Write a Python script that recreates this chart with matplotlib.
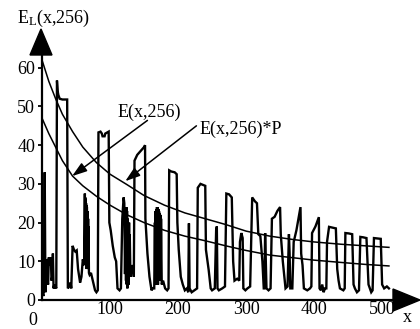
import matplotlib
matplotlib.use("Agg")
import matplotlib.pyplot as plt
from matplotlib.patches import Polygon
from matplotlib.transforms import ScaledTranslation

plt.rcParams['font.family'] = ['Liberation Serif', 'DejaVu Serif']
plt.rcParams['mathtext.fontset'] = 'custom'
plt.rcParams['mathtext.rm'] = 'Liberation Serif'
plt.rcParams['mathtext.it'] = 'Liberation Serif:italic'

# ---- data ----
el_x = [0, 1, 2, 3, 4, 5, 6, 7, 8, 9, 10, 11, 12, 13, 14, 15, 16, 17, 18, 19, 20, 21,
        22, 23, 24, 26, 30, 37, 38, 40, 42, 43, 45, 47, 49, 51, 53, 56, 58, 60, 62,
        63, 63.3, 63.6, 63.9, 64.2, 64.5, 64.8, 65.1, 65.4, 65.7, 66, 66.3, 66.6, 66.9,
        67.2, 67.5, 67.8, 68.1, 68.4, 69, 70, 72, 74, 76, 78, 80, 82,
        83, 86, 88, 89, 92, 93, 98, 99, 101, 104, 107, 109, 111, 114, 116,
        118, 120, 121, 122, 123, 123.5, 124, 124.5, 125, 125.5, 126, 126.5, 127, 127.5,
        128, 128.5, 129, 130, 132, 134, 135,
        136, 140, 145, 150, 151.5, 152, 155, 158, 161, 163, 165,
        166, 166.5, 167, 167.5, 168, 168.5, 169, 169.5, 170, 170.5, 171, 171.5, 172,
        172.5, 173, 173.5, 174, 174.5, 175, 176, 178, 181, 184, 186,
        187, 190, 195, 198, 199, 201, 204, 207, 210, 213, 215, 216, 217, 220, 224, 228,
        229, 233, 237, 240, 241, 245, 248, 250, 254, 256, 257, 258, 260, 265, 269,
        271, 275, 279, 281, 283, 287, 290, 291, 293, 295, 296, 299, 302, 306,
        309, 313, 316, 318, 321, 324, 326, 327, 328, 329, 330, 333, 336,
        338, 342, 346, 350, 351, 354, 358, 361, 363, 364, 365, 368,
        370, 374, 378, 380, 381, 383, 385, 390, 394, 396,
        397, 402, 407, 408, 410, 412, 414, 416, 418,
        419, 422, 427, 432, 434, 436, 438, 443, 445,
        446, 451, 456, 458, 460, 463, 466,
        468, 472, 477, 480, 482, 484, 486,
        488, 493, 498, 500, 503, 507, 510]
el_y = [5.5, 2, 1, 6, 33, 2, 8, 10.5, 5, 4, 11, 9, 10, 11, 5, 6, 12, 3, 4, 3, 3.5, 3,
        56.7, 54, 53, 52, 51.8, 51.8, 3, 3.5, 4.5, 3, 14, 13, 12.5, 12.8, 8, 4.5, 6, 10.5, 9,
        27.5, 10, 26.5, 12, 26, 9, 25, 12, 24.5, 8, 24, 11, 23, 9,
        22, 10, 21, 8, 19, 7, 6.5, 7, 5.5, 4, 2.5, 2, 2.5,
        43.3, 43.5, 43, 42.3, 42.3, 43, 43.5, 20, 18, 14, 11, 10, 3, 2.5, 3,
        21, 26.5, 25, 6.7, 22, 5, 24, 4, 23, 3, 21, 5, 19, 4,
        20, 6, 17, 6, 9, 8, 6,
        36, 37.5, 38.5, 39.5, 40, 21, 12, 6, 2.5, 3, 3,
        20, 4, 23, 5, 23.5, 4, 24, 6, 24, 4, 23.5, 5, 23,
        6, 22.5, 5, 22, 5, 21, 4, 5, 3, 2.5, 3,
        33.5, 33.2, 33, 32.5, 20, 13, 6, 4, 2.5, 3, 2, 19.8, 3, 2, 2.5, 3,
        29, 30, 29.7, 29.5, 13, 7.8, 3, 2.5, 3, 18, 19, 3, 2.5, 3, 3.5,
        27.5, 27.3, 26.5, 10, 5, 5.5, 5, 15, 17.3, 16, 3, 2.5, 3, 3.5,
        26.5, 25.5, 25, 17, 16.5, 10, 3, 3, 17.3, 10, 3, 2.5, 3,
        21, 21.5, 23, 24, 17, 10, 3, 3.5, 17, 12, 3, 3,
        15, 18, 22, 24, 12, 9, 3, 2.5, 3, 3.5,
        17.3, 19, 21.4, 3, 2.5, 4, 2, 3, 3,
        15, 18.9, 18.7, 18.5, 8, 5, 3, 2.5, 3,
        17.3, 17.2, 17, 4, 3, 2, 2.5,
        16.3, 16.2, 16, 4, 3, 2, 2.5,
        16, 15.9, 15.8, 4, 3, 3.5, 3]

curve_x = [0, 10, 20, 30, 45, 60, 80, 100, 125, 150, 180, 210, 240, 270, 300,
           335, 370, 400, 440, 475, 510]
e_p_y = [62, 56.5, 52, 48, 43.5, 39.5, 35.5, 32.5, 29.8, 27, 24.5, 22.5, 21, 19.5,
         17.8, 16.5, 15.6, 15, 14.4, 14, 13.6]
e_y = [47, 43, 39.5, 36, 32, 29.5, 26.8, 24.5, 22, 20, 18, 16.5, 15.3, 14, 12.8,
       11.6, 10.9, 10.3, 9.7, 9.2, 8.8]

yticks = [0, 10, 20, 30, 40, 50, 60]
xticks = [0, 100, 200, 300, 400, 500]
label_e = "E(x,256)"
label_ep = "E(x,256)*P"

W, H = 420, 329
fig = plt.figure(figsize=(W / 100, H / 100), dpi=100)
ax = fig.add_axes([42 / W, 29 / H, 351 / W, 245 / H])
ax.set_xlim(0, 516)
ax.set_ylim(0, 63.3)

ax.plot(el_x, el_y, color='black', lw=1.7, solid_joinstyle='miter')
ax.plot(curve_x, e_p_y, color='black', lw=1.1)
ax.plot(curve_x, e_y, color='black', lw=1.1)

for s in ['top', 'right']:
    ax.spines[s].set_visible(False)
for s in ['left', 'bottom']:
    ax.spines[s].set_linewidth(1.6)

fs = 13
ax.set_yticks(yticks)
ax.set_yticklabels([str(v) for v in yticks], fontsize=fs)
ax.set_xticks(xticks)
ax.set_xticklabels([str(v) for v in xticks], fontsize=fs)
ax.tick_params(axis='y', length=3, width=1.3, pad=2)
ax.tick_params(axis='x', length=0, pad=1)
# shift x-axis "0" label
lbl0 = ax.get_xticklabels()[0]
lbl0.set_transform(lbl0.get_transform() + ScaledTranslation(-9.5 / 100, -11 / 100, fig.dpi_scale_trans))

# axis arrowheads (figure pixel coords)
def fpx(px, py):
    return (px / W, (H - py) / H)

ya = Polygon([fpx(30, 55), fpx(52, 55), fpx(41, 29)], closed=True, color='black',
             transform=fig.transFigure, clip_on=False, zorder=10)
xa = Polygon([fpx(393, 289), fpx(393, 311), fpx(420, 300)], closed=True, color='black',
             transform=fig.transFigure, clip_on=False, zorder=10)
fig.add_artist(ya)
fig.add_artist(xa)

fig.text(17 / W, (H - 8) / H, r'E$_{\mathrm{L}}$(x,256)', fontsize=fs, ha='left', va='top')
fig.text(407 / W, (H - 318) / H, 'x', fontsize=fs, ha='center', va='center')

# annotations
ax.text(157.8, 48.5, label_e, fontsize=fs, ha='center', va='center')
ax.text(292, 44, label_ep, fontsize=fs, ha='center', va='center')
arrowprops = dict(arrowstyle='-|>,head_length=0.9,head_width=0.3', color='black', lw=1.1,
                  shrinkA=0, shrinkB=0)
ax.annotate('', xy=(44.2, 32), xytext=(155, 46.4), arrowprops=arrowprops)
ax.annotate('', xy=(122.4, 30.7), xytext=(227, 45), arrowprops=arrowprops)

fig.savefig('out.png', dpi=100)
